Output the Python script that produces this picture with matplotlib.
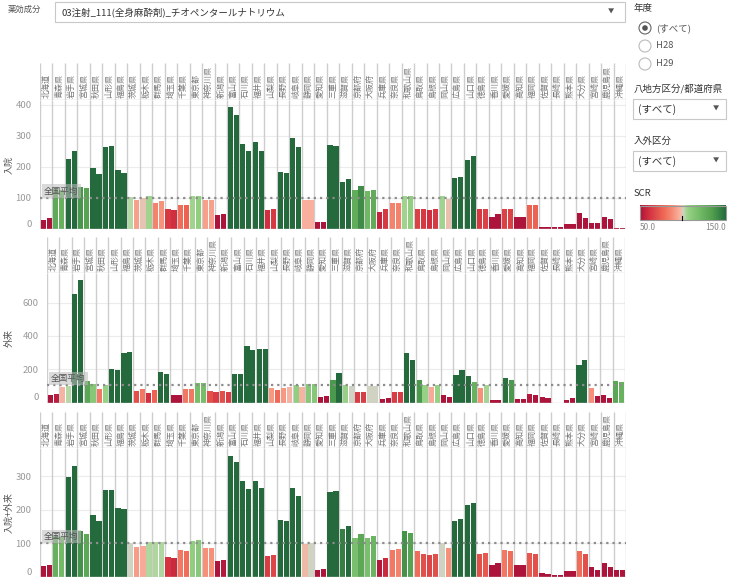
import numpy as np
import matplotlib
matplotlib.use("Agg")
import matplotlib.pyplot as plt
from matplotlib.colors import LinearSegmentedColormap, Normalize
from matplotlib.patches import Rectangle, Circle

plt.rcParams['font.family'] = ['Noto Sans CJK JP', 'DejaVu Sans']

prefectures = [
    "北海道", "青森県", "岩手県", "宮城県", "秋田県", "山形県", "福島県", "茨城県",
    "栃木県", "群馬県", "埼玉県", "千葉県", "東京都", "神奈川県", "新潟県", "富山県",
    "石川県", "福井県", "山梨県", "長野県", "岐阜県", "静岡県", "愛知県", "三重県",
    "滋賀県", "京都府", "大阪府", "兵庫県", "奈良県", "和歌山県", "鳥取県", "島根県",
    "岡山県", "広島県", "山口県", "徳島県", "香川県", "愛媛県", "高知県", "福岡県",
    "佐賀県", "長崎県", "熊本県", "大分県", "宮崎県", "鹿児島県", "沖縄県",
]

# SCR 入院
inpatient_h28 = [30, 128, 227, 137, 198, 266, 189, 102, 99, 85, 63, 79, 105, 92, 44, 395,
                 273, 279, 60, 185, 295, 95, 21, 272, 150, 127, 121, 56, 85, 105, 66, 60,
                 105, 166, 224, 63, 40, 66, 40, 76, 5, 5, 15, 50, 18, 40, 2]
inpatient_h29 = [34, 125, 250, 131, 176, 269, 179, 92, 105, 89, 60, 76, 108, 92, 47, 369,
                 250, 253, 63, 179, 266, 95, 21, 269, 160, 140, 127, 63, 85, 108, 63, 63,
                 98, 169, 237, 66, 47, 66, 40, 76, 5, 5, 15, 34, 18, 31, 2]

# SCR 外来
outpatient_h28 = [48, 96, 652, 130, 82, 202, 298, 70, 60, 184, 48, 82, 118, 70, 70, 172,
                  340, 322, 90, 90, 108, 112, 36, 136, 106, 64, 100, 22, 64, 298, 136, 94,
                  46, 166, 160, 88, 16, 148, 22, 52, 34, 0, 16, 226, 88, 46, 130]
outpatient_h29 = [54, 102, 736, 112, 106, 196, 304, 82, 76, 172, 48, 82, 118, 64, 64, 172,
                  316, 322, 78, 96, 96, 112, 42, 178, 100, 64, 100, 28, 64, 256, 106, 106,
                  34, 196, 124, 104, 16, 136, 22, 46, 28, 0, 28, 256, 40, 28, 124]

# SCR 入院+外来
total_h28 = [34, 125, 298, 138, 185, 259, 206, 100, 94, 103, 61, 82, 108, 88, 49, 362,
             286, 286, 64, 170, 266, 97, 22, 254, 144, 117, 117, 52, 82, 138, 79, 67,
             100, 167, 215, 70, 37, 82, 37, 73, 11, 5, 17, 79, 31, 43, 22]
total_h29 = [37, 120, 330, 129, 167, 259, 203, 91, 103, 103, 58, 79, 111, 88, 52, 342,
             263, 265, 67, 167, 242, 100, 25, 256, 153, 129, 123, 58, 85, 132, 70, 70,
             88, 173, 221, 73, 43, 79, 37, 70, 8, 5, 17, 70, 20, 31, 22]

national_avg = [100, 103, 100]

W, H = 732, 580
GRID = "#cdcdcd"

cmap = LinearSegmentedColormap.from_list("scr", [
    (0.00, "#ad143c"), (0.10, "#d2303f"), (0.28, "#ef6a56"), (0.37, "#f58b74"),
    (0.45, "#f9ae9c"), (0.49, "#e6c4b4"), (0.50, "#d3d3c4"), (0.52, "#b6d8a7"),
    (0.56, "#97d185"), (0.70, "#72ba66"), (0.85, "#4f9d4e"), (1.00, "#246a3d"),
])
norm = Normalize(50, 150, clip=True)


def rect(x0, y0, x1, y1):
    return [x0 / W, 1 - y1 / H, (x1 - x0) / W, (y1 - y0) / H]


fig = plt.figure(figsize=(7.32, 5.8), dpi=100)
overlay = fig.add_axes([0, 0, 1, 1])

panels = [
    ("入院", inpatient_h28, inpatient_h29, 416, [0, 100, 200, 300, 400], 40, 626, 63, 100, 229),
    ("外来", outpatient_h28, outpatient_h29, 778, [0, 200, 400, 600], 47, 625, 237, 273, 402.5),
    ("入院+外来", total_h28, total_h29, 385, [0, 100, 200, 300], 40, 626, 412, 448, 577),
]

n = len(prefectures)
x = np.arange(n)
for k, (name, h28, h29, ymax, ticks, x0, x1, htop, ptop, pbot) in enumerate(panels):
    # header with prefecture names
    axh = fig.add_axes(rect(x0, htop, x1, ptop))
    axh.set_xlim(0, n)
    axh.set_ylim(0, 1)
    axh.axis("off")
    axh.vlines(np.arange(n + 1), 0, 1, color=GRID, lw=1)
    axh.axhline(0, color=GRID, lw=1)
    for i, p in enumerate(prefectures):
        axh.text(i + 0.5, 0.05, p, rotation=90, ha="center", va="bottom",
                 fontsize=5.8, color="#777777")

    ax = fig.add_axes(rect(x0, ptop, x1, pbot))
    ax.set_xlim(0, n)
    ax.set_ylim(0, ymax)
    h28 = np.array(h28)
    h29 = np.array(h29)
    ax.bar(x + 0.05, h28, 0.42, align="edge", color=cmap(norm(h28)), zorder=2)
    ax.bar(x + 0.53, h29, 0.42, align="edge", color=cmap(norm(h29)), zorder=2)
    ax.vlines(np.arange(n + 1), 0, ymax, color=GRID, lw=1, zorder=1)
    for t in ticks[1:]:
        ax.axhline(t, color="#ececec", lw=0.8, zorder=0)
    ax.axhline(0, color=GRID, lw=1, zorder=3)
    for s in ax.spines.values():
        s.set_visible(False)
    ax.set_xticks([])
    ax.set_yticks(ticks, labels=[str(t) for t in ticks])
    ax.tick_params(axis="y", length=0, pad=6, labelsize=6.8, labelcolor="#999999")
    ax.yaxis.get_major_ticks()[0].label1.set_va("bottom")

    avg = national_avg[k]
    ax.axhline(avg, color="#8c8c8c", ls=(0, (1, 1.8)), lw=1.6, zorder=4)
    ax.annotate("全国平均", xy=(0, avg), xytext=(3, 1.8), textcoords="offset points",
                ha="left", va="bottom", fontsize=6.2, color="#555555", zorder=6,
                bbox=dict(boxstyle="square,pad=0.25", fc="#bdbdbd", ec="none", alpha=0.55))

    overlay.text(9, (ptop + pbot) / 2, name, rotation=90, ha="center", va="center",
                 fontsize=6.5, color="#555555")

# filter widgets
overlay.text(8, 9, "薬効成分", fontsize=6, color="#555555", va="center")
overlay.add_patch(Rectangle((55, 2), 570, 20, fill=False, ec="#c8c8c8", lw=0.8))
overlay.text(61, 12.5, "03注射_111(全身麻酔剤)_チオペンタールナトリウム",
             fontsize=6.8, color="#333333", va="center")
overlay.text(611, 12, "▼", fontsize=4.5, color="#555555", ha="center", va="center")

overlay.text(634, 8, "年度", fontsize=6.8, color="#333333", va="center")
for i, lab in enumerate(["(すべて)", "H28", "H29"]):
    yy = 28 + 18 * i
    overlay.add_patch(Circle((645, yy), 6, fc="white",
                             ec="#666666" if i == 0 else "#bbbbbb", lw=0.8))
    if i == 0:
        overlay.add_patch(Circle((645, yy), 2.8, fc="#555555", ec="none"))
    overlay.text(656, yy, lab, fontsize=6.8, color="#555555", va="center")

overlay.text(634, 89, "八地方区分/都道府県", fontsize=6.8, color="#333333", va="center")
overlay.text(634, 141, "入外区分", fontsize=6.8, color="#333333", va="center")
for yy in (99, 151):
    overlay.add_patch(Rectangle((633, yy), 93, 20, fill=False, ec="#c8c8c8", lw=0.8))
    overlay.text(638, yy + 10.5, "(すべて)", fontsize=7.5, color="#333333", va="center")
    overlay.text(716, yy + 10, "▼", fontsize=4.5, color="#555555", ha="center", va="center")

overlay.text(634, 193, "SCR", fontsize=6.8, color="#333333", va="center")
overlay.imshow(np.linspace(0, 1, 256)[None, :], cmap=cmap, extent=(640, 726, 220, 205.5),
               aspect="auto")
overlay.add_patch(Rectangle((640, 205.5), 86, 14.5, fill=False, ec="#999999", lw=0.8))
overlay.plot([682.3, 682.3], [216, 220], color="black", lw=0.8)
overlay.text(640, 228, "50.0", fontsize=6, color="#888888", va="center")
overlay.text(726, 228, "150.0", fontsize=6, color="#888888", va="center", ha="right")

overlay.set_xlim(0, W)
overlay.set_ylim(H, 0)
overlay.axis("off")

fig.savefig("out.png", dpi=100)
